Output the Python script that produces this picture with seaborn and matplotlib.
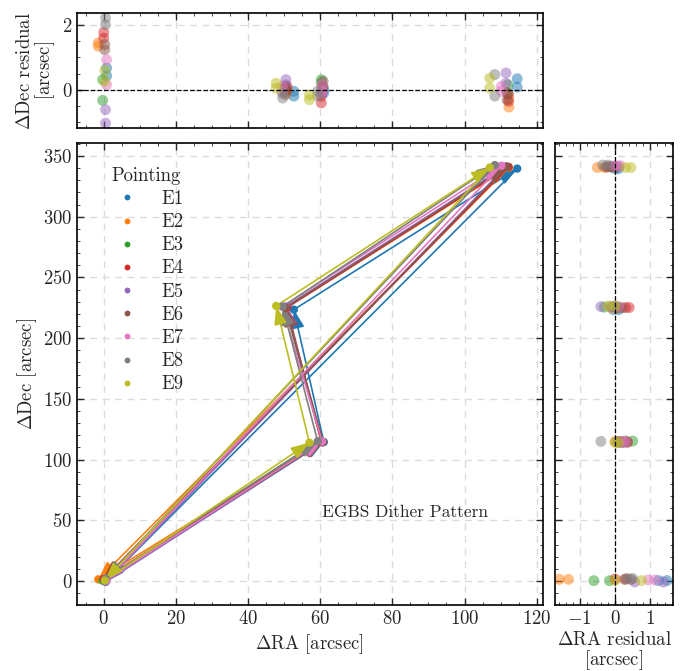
import numpy as np
import pandas as pd
import matplotlib
matplotlib.use("Agg")
import matplotlib.pyplot as plt
from matplotlib.ticker import MultipleLocator
import seaborn as sns

# ---------------- data ----------------
pointings = ["E1", "E2", "E3", "E4", "E5", "E6", "E7", "E8", "E9"]

# dither positions (4 per pointing), arcsec
ra_dither = [
    [0.8, 61.0, 52.7, 114.6],
    [-1.5, 60.5, 50.5, 112.3],
    [-0.3, 60.3, 50.3, 112.0],
    [0.0, 60.3, 50.8, 112.2],
    [0.5, 60.6, 50.5, 111.5],
    [0.3, 60.8, 50.4, 111.8],
    [0.8, 60.5, 49.5, 110.2],
    [0.5, 59.3, 49.6, 108.4],
    [0.3, 57.0, 47.8, 107.0],
]
dec_dither = [
    [0.4, 114.5, 223.5, 339.6],
    [1.4, 115.0, 225.0, 340.5],
    [0.3, 115.3, 225.5, 341.0],
    [1.7, 114.3, 225.2, 341.0],
    [-0.8, 114.2, 226.0, 341.5],
    [1.3, 114.5, 225.0, 341.0],
    [0.9, 115.0, 226.0, 342.0],
    [2.1, 115.0, 226.0, 342.5],
    [0.4, 114.0, 226.5, 340.5],
]

# Dec residuals (2 per dither position)
dec_resid = [
    [0.67, 0.43, 0.00, -0.10, -0.20, -0.05, 0.34, 0.08],
    [1.45, 1.35, 0.10, -0.05, 0.00, -0.10, -0.54, -0.30],
    [0.31, -0.33, 0.31, 0.20, -0.05, 0.10, 0.15, -0.10],
    [1.78, 1.60, -0.41, -0.20, 0.00, 0.10, -0.36, -0.15],
    [-0.62, -1.04, 0.05, -0.10, 0.31, 0.15, 0.52, 0.20],
    [1.40, 1.24, 0.26, 0.10, 0.05, -0.15, -0.31, -0.10],
    [0.93, 0.15, 0.16, -0.05, -0.10, 0.10, -0.05, 0.10],
    [2.23, 2.02, -0.20, -0.05, -0.26, -0.10, 0.47, -0.20],
    [0.60, 0.26, -0.16, -0.31, 0.20, 0.05, 0.36, 0.05],
]
# RA residuals (2 per dither position)
ra_resid = [
    [1.23, 1.47, 0.10, 0.20, -0.05, 0.10, 0.00, 0.10],
    [-1.58, -1.32, 0.15, 0.00, 0.05, -0.10, -0.50, -0.30],
    [-0.60, -0.16, 0.50, 0.30, -0.30, 0.10, 0.05, -0.10],
    [0.00, 0.30, 0.20, 0.35, 0.40, 0.30, -0.20, 0.00],
    [0.56, 1.37, 0.25, 0.10, -0.40, 0.00, -0.10, 0.10],
    [0.27, 0.45, 0.35, 0.15, 0.20, 0.05, -0.25, -0.10],
    [0.94, 1.13, 0.30, 0.20, 0.10, -0.10, 0.00, 0.15],
    [0.50, 0.35, -0.40, 0.05, -0.10, 0.00, -0.35, -0.20],
    [0.75, 0.00, 0.00, 0.10, -0.20, 0.00, 0.30, 0.45],
]

# ---------------- tables ----------------
main_rows, res_rows = [], []
for i, p in enumerate(pointings):
    for j in range(4):
        main_rows.append(dict(Pointing=p, ra=ra_dither[i][j], dec=dec_dither[i][j]))
        for k in range(2):
            res_rows.append(dict(Pointing=p, ra=ra_dither[i][j], dec=dec_dither[i][j],
                                 ddec=dec_resid[i][2 * j + k], dra=ra_resid[i][2 * j + k]))
df_main = pd.DataFrame(main_rows)
df_res = pd.DataFrame(res_rows)

# ---------------- style ----------------
sns.set_style("ticks")
plt.rcParams.update({
    "font.family": "serif",
    "font.serif": ["cmr10"],
    "mathtext.fontset": "cm",
    "axes.formatter.use_mathtext": True,
    "font.size": 13,
    "axes.labelsize": 13.5,
    "xtick.labelsize": 13.5,
    "ytick.labelsize": 13.5,
    "xtick.direction": "in",
    "ytick.direction": "in",
    "xtick.top": True,
    "ytick.right": True,
    "xtick.major.size": 5,
    "ytick.major.size": 5,
    "xtick.minor.size": 2.5,
    "ytick.minor.size": 2.5,
    "xtick.major.width": 1.0,
    "ytick.major.width": 1.0,
    "axes.linewidth": 1.2,
    "axes.edgecolor": "black",
    "axes.labelpad": 3.0,
})
palette = sns.color_palette("tab10", 9)
colors = dict(zip(pointings, palette))

fig = plt.figure(figsize=(6.84, 6.71), dpi=100)
ax = fig.add_axes([0.1126, 0.0984, 0.681, 0.6885])
axt = fig.add_axes([0.1126, 0.8092, 0.681, 0.1714], sharex=ax)
axr = fig.add_axes([0.8114, 0.0984, 0.1725, 0.6885], sharey=ax)

for a in (ax, axt, axr):
    a.set_axisbelow(True)
    a.grid(True, which="major", ls=(0, (5, 4)), color="#dcdcdc", lw=1.0)

# ---------------- main panel ----------------
for i, p in enumerate(pointings):
    for j in range(4):
        s = (ra_dither[i][j], dec_dither[i][j])
        e = (ra_dither[i][(j + 1) % 4], dec_dither[i][(j + 1) % 4])
        ax.annotate("", xy=e, xytext=s,
                    arrowprops=dict(arrowstyle="-|>,head_length=0.7,head_width=0.24",
                                    color=colors[p], lw=1.2, shrinkA=0, shrinkB=0,
                                    mutation_scale=16))

sns.scatterplot(data=df_main, x="ra", y="dec", hue="Pointing", palette=colors,
                s=36, edgecolor="none", ax=ax, zorder=3)
sns.move_legend(ax, "upper left", bbox_to_anchor=(0.03, 0.985), frameon=False,
                handletextpad=0.85, markerscale=0.7, title="Pointing", fontsize=13.5,
                title_fontsize=13.5, labelspacing=0.28)

ax.text(0.525, 0.2, "EGBS Dither Pattern", transform=ax.transAxes, fontsize=12.5, va="center")
ax.set_xlim(-7.4, 121.7)
ax.set_ylim(-19.7, 360.7)
ax.xaxis.set_major_locator(MultipleLocator(20))
ax.xaxis.set_minor_locator(MultipleLocator(5))
ax.yaxis.set_major_locator(MultipleLocator(50))
ax.yaxis.set_minor_locator(MultipleLocator(10))
ax.set_xlabel(r"$\Delta$RA [arcsec]")
ax.set_ylabel(r"$\Delta$Dec [arcsec]")

# ---------------- top residual panel ----------------
sns.scatterplot(data=df_res, x="ra", y="ddec", hue="Pointing", palette=colors,
                s=62, alpha=0.5, edgecolor="none", legend=False, ax=axt)
axt.axhline(0, color="black", ls="--", lw=0.9)
axt.set_ylim(-1.19, 2.38)
axt.yaxis.set_major_locator(MultipleLocator(2))
axt.yaxis.set_minor_locator(MultipleLocator(0.5))
axt.xaxis.set_minor_locator(MultipleLocator(5))
axt.tick_params(labelbottom=False)
axt.set_xlabel("")
axt.set_ylabel(r"$\Delta$Dec residual" + "\n" + r"$\mathrm{[arcsec]}$", linespacing=1.0)

# ---------------- right residual panel ----------------
sns.scatterplot(data=df_res, x="dra", y="dec", hue="Pointing", palette=colors,
                s=62, alpha=0.5, edgecolor="none", legend=False, ax=axr)
axr.axvline(0, color="black", ls="--", lw=0.9)
axr.set_xlim(-1.70, 1.64)
axr.xaxis.set_major_locator(MultipleLocator(1))
axr.xaxis.set_minor_locator(MultipleLocator(0.2))
axr.tick_params(labelleft=False)
axr.set_ylabel("")
axr.set_xlabel(r"$\Delta$RA residual" + "\n" + r"$\mathrm{[arcsec]}$", linespacing=1.0,
               labelpad=2)

fig.savefig("out.png", dpi=100)
